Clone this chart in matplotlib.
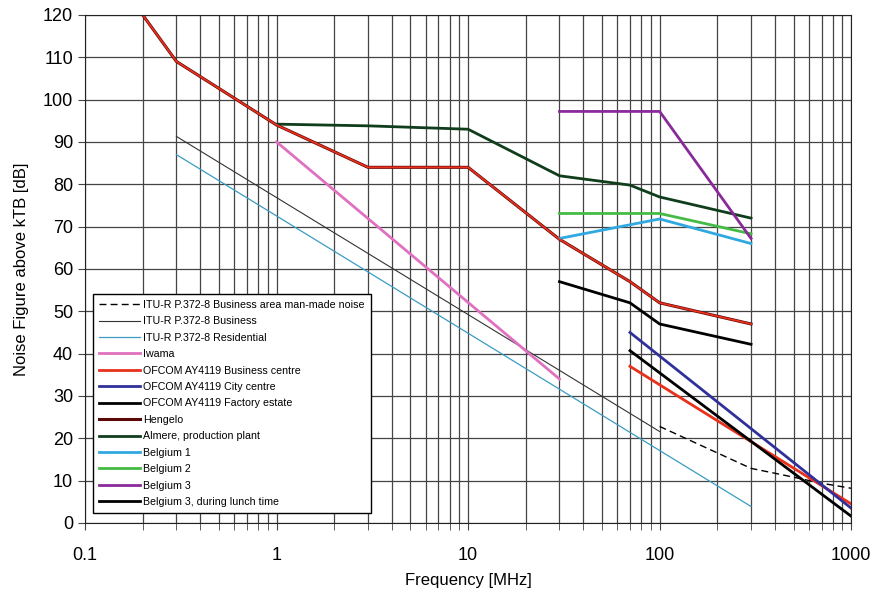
import matplotlib
matplotlib.use('Agg')
import matplotlib.pyplot as plt
from matplotlib.ticker import LogLocator, NullFormatter, FixedLocator, FixedFormatter

plt.rcParams['font.family'] = ['Liberation Sans', 'DejaVu Sans']

# ITU-R P.372-8 curves
itu_area_f = [100, 300, 425, 700, 1000]
itu_area_v = [22.8, 12.9, 11.5, 9.4, 8.2]
itu_bus_f = [0.3, 100]
itu_bus_v = [91.3, 21.6]
itu_res_f = [0.3, 300]
itu_res_v = [87.0, 3.9]

# Measurements
iwama_f = [1, 30]
iwama_v = [90, 34]
ofcom_bus_f = [70, 1000]
ofcom_bus_v = [37, 4.5]
ofcom_city_f = [70, 1000]
ofcom_city_v = [45, 3.5]
ofcom_fact_f = [70, 1000]
ofcom_fact_v = [40.7, 1.6]
hengelo_f = [0.2, 0.3, 1, 3, 10, 30, 70, 100, 300]
hengelo_v = [120, 109, 94, 84, 84, 67, 57, 52, 47]
almere_f = [1, 3, 10, 30, 70, 100, 300]
almere_v = [94.2, 93.8, 93, 82, 79.8, 77, 72]
belg1_f = [30, 100, 300]
belg1_v = [67.2, 71.8, 66]
belg2_f = [30, 100, 300]
belg2_v = [73.1, 73.1, 68.3]
belg3_f = [30, 100, 300]
belg3_v = [97.2, 97.2, 67.2]
belg3l_f = [30, 70, 100, 300]
belg3l_v = [57, 52, 47, 42.2]

fig = plt.figure(figsize=(8.73, 5.96), dpi=100)
ax = fig.add_axes([0.0974, 0.1225, 0.8776, 0.8525])

ax.plot(itu_area_f, itu_area_v, color='black', lw=1, dashes=(5, 3),
        label='ITU-R P.372-8 Business area man-made noise')
ax.plot(itu_bus_f, itu_bus_v, color='#333333', lw=0.8, label='ITU-R P.372-8 Business')
ax.plot(itu_res_f, itu_res_v, color='#3a9cc0', lw=0.9, label='ITU-R P.372-8 Residential')
ax.plot(iwama_f, iwama_v, color='#e070c0', lw=2, label='Iwama')
ax.plot(ofcom_bus_f, ofcom_bus_v, color='#e8301c', lw=2, label='OFCOM AY4119 Business centre')
ax.plot(ofcom_city_f, ofcom_city_v, color='#30309a', lw=2, label='OFCOM AY4119 City centre')
ax.plot(ofcom_fact_f, ofcom_fact_v, color='black', lw=2, label='OFCOM AY4119 Factory estate')
ax.plot(hengelo_f, hengelo_v, color='#5a0808', lw=2.2, label='Hengelo')
ax.plot(almere_f, almere_v, color='#103d1c', lw=2, label='Almere, production plant')
ax.plot(belg1_f, belg1_v, color='#30a8e0', lw=2, label='Belgium 1')
ax.plot(belg2_f, belg2_v, color='#44bb44', lw=2, label='Belgium 2')
ax.plot(belg3_f, belg3_v, color='#8a2a9a', lw=2, label='Belgium 3')
ax.plot(belg3l_f, belg3l_v, color='black', lw=2, label='Belgium 3, during lunch time')
# red trace drawn over the Hengelo curve
ax.plot(hengelo_f, hengelo_v, color='#e8301c', lw=1.3)

ax.set_xscale('log')
ax.set_xlim(0.1, 1000)
ax.set_ylim(0, 120)
ax.xaxis.set_major_locator(FixedLocator([0.1, 1, 10, 100, 1000]))
ax.xaxis.set_major_formatter(FixedFormatter(['0.1', '1', '10', '100', '1000']))
ax.xaxis.set_minor_locator(LogLocator(base=10, subs=range(2, 10)))
ax.xaxis.set_minor_formatter(NullFormatter())
ax.set_yticks(range(0, 121, 10))

ax.grid(which='major', color='#444444', lw=0.9)
ax.grid(which='minor', axis='x', color='#444444', lw=0.9)
ax.tick_params(which='both', length=5, color='#444444', labelsize=13)
ax.tick_params(axis='x', pad=12)
for s in ax.spines.values():
    s.set_color('#222222')

ax.set_xlabel('Frequency [MHz]', fontsize=12, labelpad=7)
ax.set_ylabel('Noise Figure above kTB [dB]', fontsize=12, labelpad=10)

leg = ax.legend(loc='lower left', bbox_to_anchor=(0.0104, 0.019), borderaxespad=0,
                fontsize=7.7, handlelength=3.8, handletextpad=0.3, labelspacing=0.6,
                fancybox=False, framealpha=1, edgecolor='black', borderpad=0.6)
leg.get_frame().set_linewidth(1)

fig.savefig('out.png', dpi=100)
